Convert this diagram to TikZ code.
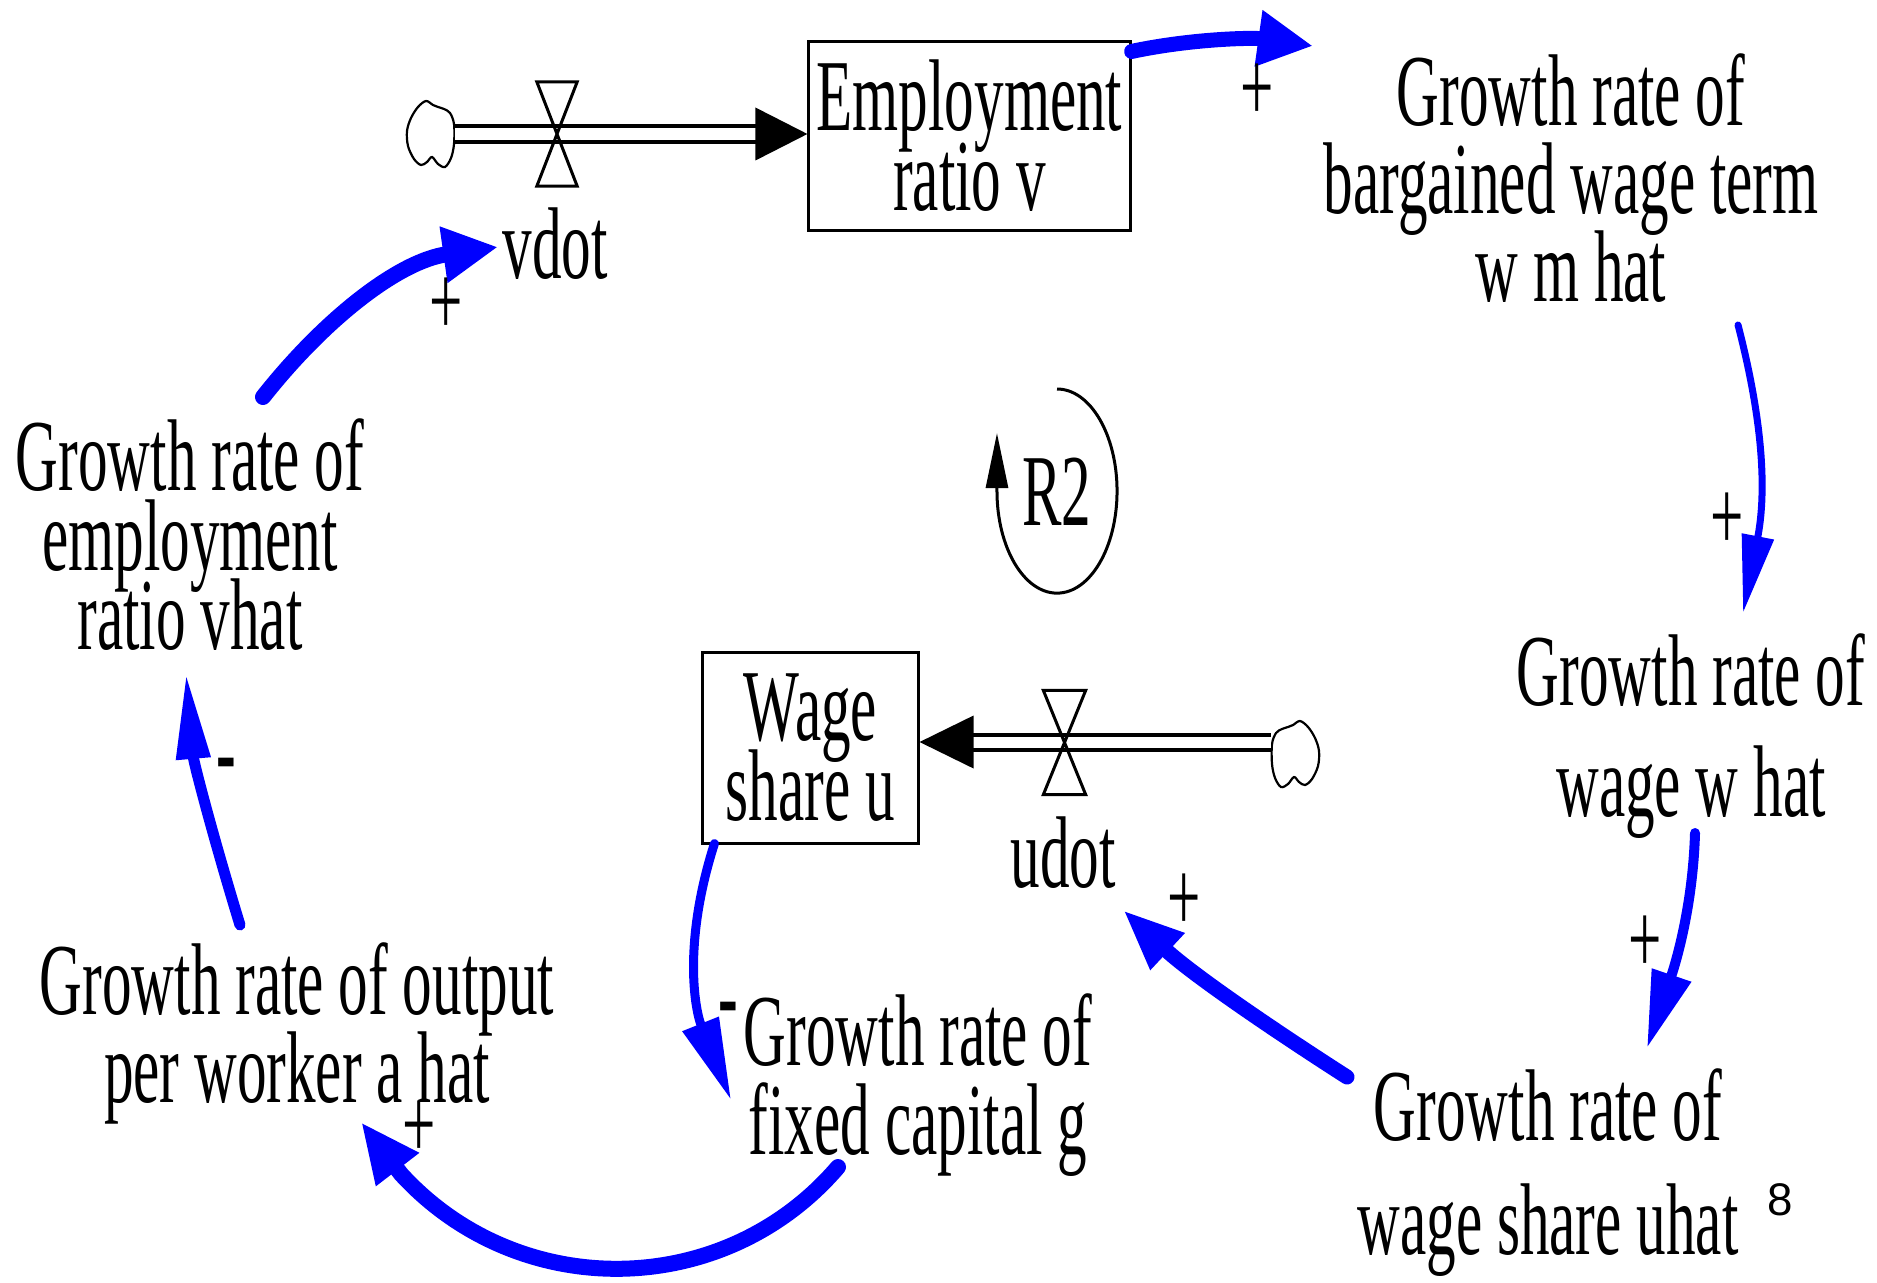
\documentclass[tikz,border=0pt]{standalone}
\usepackage{fontspec}
\setmainfont[FakeStretch=0.58]{Liberation Serif}
\newfontfamily\smallsans{Liberation Sans}
\usetikzlibrary{arrows.meta}
\definecolor{linkblue}{RGB}{0,0,255}
\tikzset{
  lbl/.style={inner sep=0pt, align=center, font={\fontsize{29pt}{#1}\selectfont\lineskiplimit=-100pt\relax}},
  lbl/.default=25pt,
  stockbox/.style={draw, line width=0.03cm, inner sep=0pt, align=center, font={\fontsize{29pt}{22.76pt}\selectfont\lineskiplimit=-100pt\relax}},
  sgn/.style={inner sep=0pt, font={\fontsize{29pt}{30pt}\selectfont}},
  neg/.style={inner sep=0pt, font={\fontsize{29pt}{30pt}\selectfont\bfseries}},
  lnk/.style={draw=linkblue, line cap=round, line width=#1},
  pipe/.style={draw, line width=0.04cm, double distance=0.11cm},
  valvebox/.style={inner sep=0pt, minimum height=1.03cm},
  valveline/.style={line width=0.03cm, line join=miter},
  cloudbox/.style={inner sep=0pt, minimum width=0.49cm, minimum height=0.67cm},
  cloudline/.style={line width=0.022cm},
}
\begin{document}
\begin{tikzpicture}[x=0.01cm, y=-0.01cm]
\fill[white] (0,0) rectangle (1877,1282);
\useasboundingbox (0,0) rectangle (1877,1282);

% stocks
\node[stockbox, minimum width=3.21cm, minimum height=1.88cm] (emp) at (969.5,136) {Employment\\ratio v};
\node[stockbox, minimum width=2.15cm, minimum height=1.90cm] (wage) at (810.5,748) {Wage\\share u};

% auxiliaries
\node[lbl=25.04pt, anchor=north] (wm) at (1571,53) {Growth rate of\\bargained wage term\\w m hat};
\node[lbl=31.58pt, anchor=north] (ww) at (1691,633) {Growth rate of\\wage w hat};
\node[lbl=32.44pt, anchor=north] (uhat) at (1548,1068) {Growth rate of\\wage share uhat};
\node[lbl=22.62pt, anchor=north] (vhat) at (190,418) {Growth rate of\\employment\\ratio vhat};
\node[lbl=25.04pt, anchor=north] (ahat) at (297,942) {Growth rate of output\\per worker a hat};
\node[lbl=25.32pt, anchor=north] (gcap) at (918,993) {Growth rate of\\fixed capital g};
\node[lbl, anchor=base] (vdot) at (555,278) {vdot};
\node[lbl, anchor=base] (udot) at (1063,887) {udot};
\node[lbl, anchor=base] (r2) at (1057,525) {R2};
\node[inner sep=0pt, font=\smallsans\fontsize{13pt}{15pt}\selectfont] (note) at (1780,1200) {8};

% clouds
\node[cloudbox] (cl1) at (430,134) {};
\node[cloudbox] (cl2) at (1296,754) {};
\draw[cloudline, shift={(cl1.center)}] plot[smooth cycle, tension=0.55] coordinates {(-4,-33) (3,-29) (8,-27) (14,-25) (20,-21) (24,-10) (24,10) (21,24) (15,33) (8,30) (2,23) (-3,28) (-9,31) (-16,25) (-22,12) (-23,-3) (-19,-16) (-12,-27)};
\draw[cloudline, shift={(cl2.center)}, xscale=-1] plot[smooth cycle, tension=0.55] coordinates {(-4,-33) (3,-29) (8,-27) (14,-25) (20,-21) (24,-10) (24,10) (21,24) (15,33) (8,30) (2,23) (-3,28) (-9,31) (-16,25) (-22,12) (-23,-3) (-19,-16) (-12,-27)};

% flows (pipes)
\draw[pipe] (cl1.east) -- ([shift={(-49,-2)}]emp.west);
\fill ([shift={(0,-2)}]emp.west) -- ([shift={(-52,-28.5)}]emp.west) -- ([shift={(-52,24.5)}]emp.west) -- cycle;
\draw[pipe] ([shift={(0,-12)}]cl2.west) -- ([shift={(51,-6)}]wage.east);
\fill ([shift={(0,-6)}]wage.east) -- ([shift={(54,-32.5)}]wage.east) -- ([shift={(54,20.5)}]wage.east) -- cycle;

% valves
\node[valvebox, minimum width=0.39cm] (v1) at (557,134) {};
\draw[valveline] (v1.north west) -- (v1.north east) -- (v1.south west) -- (v1.south east) -- cycle;
\node[valvebox, minimum width=0.41cm] (v2) at (1064.5,742.5) {};
\draw[valveline] (v2.north west) -- (v2.north east) -- (v2.south west) -- (v2.south east) -- cycle;

% causal links
\draw[lnk=0.15cm, -{Triangle[length=0.55cm,width=0.53cm]}] ([shift={(0,11)}]emp.north east) .. controls +(59.7,-12.7) and +(-60.4,-8.5) .. ([shift={(-258,-7)}]wm.north);
\draw[lnk=0.07cm, -{Triangle[length=0.78cm,width=0.31cm]}] ([shift={(167,272)}]wm.north) .. controls +(30,116) and +(21,-108) .. ([shift={(52,-20)}]ww.north);
\draw[lnk=0.10cm, -{Triangle[length=0.77cm,width=0.39cm]}] ([shift={(4,200)}]ww.north) .. controls +(-2.4,80) and +(25.6,-76) .. ([shift={(99,-20)}]uhat.north);
\draw[lnk=0.15cm, -{Triangle[length=0.61cm,width=0.46cm]}] ([shift={(-201,9)}]uhat.north) .. controls +(-78,-50) and +(68,63.4) .. ([shift={(60,23)}]udot.base);
\draw[lnk=0.09cm, -{Triangle[length=0.82cm,width=0.37cm]}] ([shift={(13,-1)}]wage.south west) .. controls +(-32,100) and +(-36,-90) .. ([shift={(-187,107)}]gcap.north);
\draw[lnk=0.16cm, -{Triangle[length=0.6cm,width=0.5cm]}] ([shift={(-80,174)}]gcap.north) .. controls +(-113.8,133) and +(118,129) .. ([shift={(104,232)}]ahat.north) -- ([shift={(64,180)}]ahat.north);
\draw[lnk=0.11cm, -{Triangle[length=0.86cm,width=0.32cm]}] ([shift={(-57,-17)}]ahat.north) .. controls +(-26.3,-86) and +(7.7,89.6) .. ([shift={(-4,255)}]vhat.north);
\draw[lnk=0.16cm, -{Triangle[length=0.55cm,width=0.53cm]}] ([shift={(73,-21)}]vhat.north) .. controls +(62,-78.5) and +(-99,14) .. ([shift={(-57,-31)}]vdot.base);

% loop marker
\draw[line width=0.03cm, -{Triangle[length=0.55cm,width=0.22cm]}] ([shift={(0,-136)}]r2.base) arc[start angle=90, end angle=-180, x radius=0.6cm, y radius=1.02cm] -- ++(0,-58);

% polarities
\node[sgn] (p1) at (1257,93) {+};
\node[sgn] (p2) at (446,307) {+};
\node[sgn] (p3) at (1727,522) {+};
\node[sgn] (p4) at (1645,945) {+};
\node[sgn] (p5) at (1184,903) {+};
\node[sgn] (p6) at (419,1130) {+};
\node[neg] (m1) at (226,772) {-};
\node[neg] (m2) at (728,1016) {-};
\end{tikzpicture}
\end{document}
